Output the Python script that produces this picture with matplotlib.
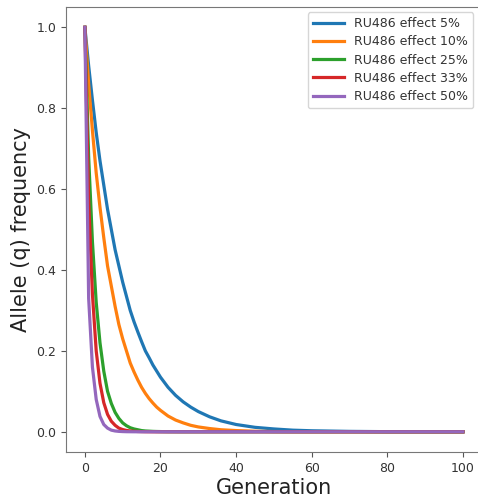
import matplotlib
matplotlib.use("Agg")
import matplotlib.pyplot as plt

# generations sampled along the curves
generations = [0, 1, 2, 3, 4, 5, 6, 7, 8, 9, 10, 11, 12, 13, 14, 15, 16, 17,
               18, 19, 20, 22, 24, 26, 28, 30, 33, 36, 40, 45, 50, 55, 60, 70,
               80, 90, 100]

q_5 = [1.0, 0.905, 0.82, 0.74, 0.67, 0.61, 0.55, 0.50, 0.45, 0.41, 0.37,
       0.335, 0.30, 0.272, 0.247, 0.223, 0.20, 0.183, 0.165, 0.15, 0.135,
       0.11, 0.09, 0.074, 0.061, 0.05, 0.037, 0.027, 0.018, 0.011, 0.007,
       0.004, 0.0025, 0.001, 0.0003, 0.0001, 0.0]
q_10 = [1.0, 0.86, 0.745, 0.64, 0.555, 0.48, 0.41, 0.36, 0.31, 0.265, 0.23,
        0.20, 0.17, 0.148, 0.128, 0.11, 0.095, 0.082, 0.071, 0.061, 0.053,
        0.039, 0.029, 0.022, 0.016, 0.012, 0.008, 0.005, 0.003, 0.0013,
        0.0006, 0.0003, 0.0001, 0.0, 0.0, 0.0, 0.0]
q_25 = [1.0, 0.68, 0.47, 0.32, 0.22, 0.15, 0.10, 0.07, 0.048, 0.033, 0.022,
        0.015, 0.010, 0.007, 0.005, 0.003, 0.002, 0.0015, 0.001, 0.0007,
        0.0005, 0.0002, 0.0001, 0.0, 0.0, 0.0, 0.0, 0.0, 0.0, 0.0, 0.0,
        0.0, 0.0, 0.0, 0.0, 0.0, 0.0]
q_33 = [1.0, 0.57, 0.34, 0.20, 0.12, 0.072, 0.043, 0.026, 0.016, 0.009,
        0.0055, 0.0033, 0.002, 0.0012, 0.0007, 0.0004, 0.0002, 0.0001, 0.0,
        0.0, 0.0, 0.0, 0.0, 0.0, 0.0, 0.0, 0.0, 0.0, 0.0, 0.0, 0.0, 0.0,
        0.0, 0.0, 0.0, 0.0, 0.0]
q_50 = [1.0, 0.33, 0.16, 0.08, 0.038, 0.018, 0.009, 0.004, 0.002, 0.001,
        0.0005, 0.0002, 0.0001, 0.0, 0.0, 0.0, 0.0, 0.0, 0.0, 0.0, 0.0,
        0.0, 0.0, 0.0, 0.0, 0.0, 0.0, 0.0, 0.0, 0.0, 0.0, 0.0, 0.0, 0.0,
        0.0, 0.0, 0.0]

labels = ["RU486 effect 5%", "RU486 effect 10%", "RU486 effect 25%",
          "RU486 effect 33%", "RU486 effect 50%"]
series = [q_5, q_10, q_25, q_33, q_50]
colors = ["#1f77b4", "#ff7f0e", "#2ca02c", "#d62728", "#9467bd"]

fig = plt.figure(figsize=(4.78, 4.96), dpi=100)
ax = fig.add_axes([0.138, 0.0887, 0.870, 0.897])

for q, lab, c in zip(series, labels, colors):
    ax.plot(generations, q, color=c, lw=2.3, label=lab)

ax.set_xlim(-5, 105)
ax.set_ylim(-0.05, 1.05)
ax.set_xticks([0, 20, 40, 60, 80, 100])
ax.set_yticks([0.0, 0.2, 0.4, 0.6, 0.8, 1.0])
ax.tick_params(labelsize=9, colors="#555555", labelcolor="#333333")
for sp in ax.spines.values():
    sp.set_color("#777777")

ax.set_xlabel("Generation", fontsize=15, color="#222222", labelpad=2)
ax.set_ylabel("Allele (q) frequency", fontsize=15, color="#222222", labelpad=4)

# legend box sits right up against the right edge of the picture
leg = ax.legend(loc="upper right", fontsize=9, bbox_to_anchor=(473 / 478, 1 - 12 / 496),
                bbox_transform=fig.transFigure, borderaxespad=0,
                handlelength=2.5, labelspacing=0.42)
for t in leg.get_texts():
    t.set_color("#333333")

fig.savefig("out.png", dpi=100)
